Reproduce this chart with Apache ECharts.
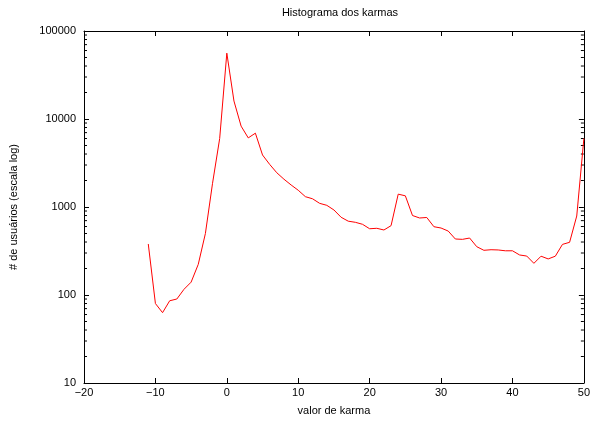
<!DOCTYPE html>
<html><head><meta charset="utf-8">
<script src="https://cdn.jsdelivr.net/npm/echarts@6/dist/echarts.min.js"></script>
<style>html,body{margin:0;padding:0;background:#fff}#c{width:593px;height:421px}</style>
</head><body><div id="c"></div>
<script>
const karma = [-11,-10,-9,-8,-7,-6,-5,-4,-3,-2,-1,0,1,2,3,4,5,6,7,8,9,10,11,12,13,14,15,16,17,18,19,20,21,22,23,24,25,26,27,28,29,30,31,32,33,34,35,36,37,38,39,40,41,42,43,44,45,46,47,48,49,50];
const users = [380,80,63,86,90,116,140,223,500,1860,6000,56000,16000,8300,6100,6900,3900,3050,2450,2070,1780,1550,1310,1240,1100,1045,925,765,690,670,636,566,573,548,614,1400,1340,800,750,760,597,577,533,433,429,444,354,322,327,325,318,318,285,277,229,276,257,276,376,397,790,6000];
const xTicks = [-20,-10,0,10,20,30,40,50];
const yTicks = [10,100,1000,10000,100000];
const minorY = [];
for (let i = 0; i < yTicks.length - 1; i++) for (let m = 2; m <= 9; m++) minorY.push(yTicks[i] * m);

const font = 'Liberation Sans, Arial, sans-serif';
const chart = echarts.init(document.getElementById('c'), null, {renderer: 'canvas'});
const axisLine = {show: true, onZero: false, lineStyle: {color: '#000', width: 1}};
chart.setOption({
  animation: false,
  title: {text: 'Histograma dos karmas', left: 335, top: 2, textAlign: 'center',
    textStyle: {fontFamily: font, fontSize: 11, fontWeight: 'normal', color: '#000'}},
  grid: {left: 83, right: 6, top: 31, bottom: 38},
  xAxis: [{
    type: 'value', min: -20, max: 50, interval: 10,
    name: 'valor de karma', nameLocation: 'middle', nameGap: 22,
    nameTextStyle: {fontFamily: font, fontSize: 11, color: '#000'},
    axisLine, axisTick: {inside: true, length: 5, lineStyle: {color: '#000'}},
    axisLabel: {fontFamily: font, fontSize: 11, color: '#000', margin: 4,
      formatter: v => String(v).replace('-', '\u2212')},
    splitLine: {show: false}
  }, {
    type: 'value', position: 'top', min: -20, max: 50, interval: 10,
    axisLine, axisTick: {inside: true, length: 5, lineStyle: {color: '#000'}},
    axisLabel: {show: false}, splitLine: {show: false}
  }],
  yAxis: [{
    type: 'log', logBase: 10, min: 10, max: 100000,
    name: '# de usuários (escala log)', nameLocation: 'middle', nameGap: 65,
    nameTextStyle: {fontFamily: font, fontSize: 11, color: '#000'},
    axisLine, axisTick: {inside: true, length: 5, lineStyle: {color: '#000'}},
    axisLabel: {fontFamily: font, fontSize: 11, color: '#000', margin: 8,
      formatter: v => String(Math.round(v))},
    splitLine: {show: false}
  }, {
    type: 'log', logBase: 10, min: 10, max: 100000, position: 'right',
    axisLine, axisTick: {inside: true, length: 5, lineStyle: {color: '#000'}},
    axisLabel: {show: false}, splitLine: {show: false}
  }],
  series: [{
    type: 'line', data: karma.map((k, i) => [k, users[i]]),
    showSymbol: false, symbol: 'none',
    lineStyle: {color: '#ff0000', width: 1}, itemStyle: {color: '#ff0000'}
  }, {
    type: 'custom', clip: false, silent: true,
    data: minorY.map(v => [-20, v]),
    renderItem: function (params, api) {
      const v = api.value(1);
      const l = api.coord([-20, v]);
      const r = api.coord([50, v]);
      return {type: 'group', children: [
        {type: 'line', shape: {x1: l[0], y1: l[1], x2: l[0] + 3, y2: l[1]}, style: {stroke: '#000', lineWidth: 1}},
        {type: 'line', shape: {x1: r[0], y1: r[1], x2: r[0] - 3, y2: r[1]}, style: {stroke: '#000', lineWidth: 1}}
      ]};
    }
  }]
});
</script></body></html>
